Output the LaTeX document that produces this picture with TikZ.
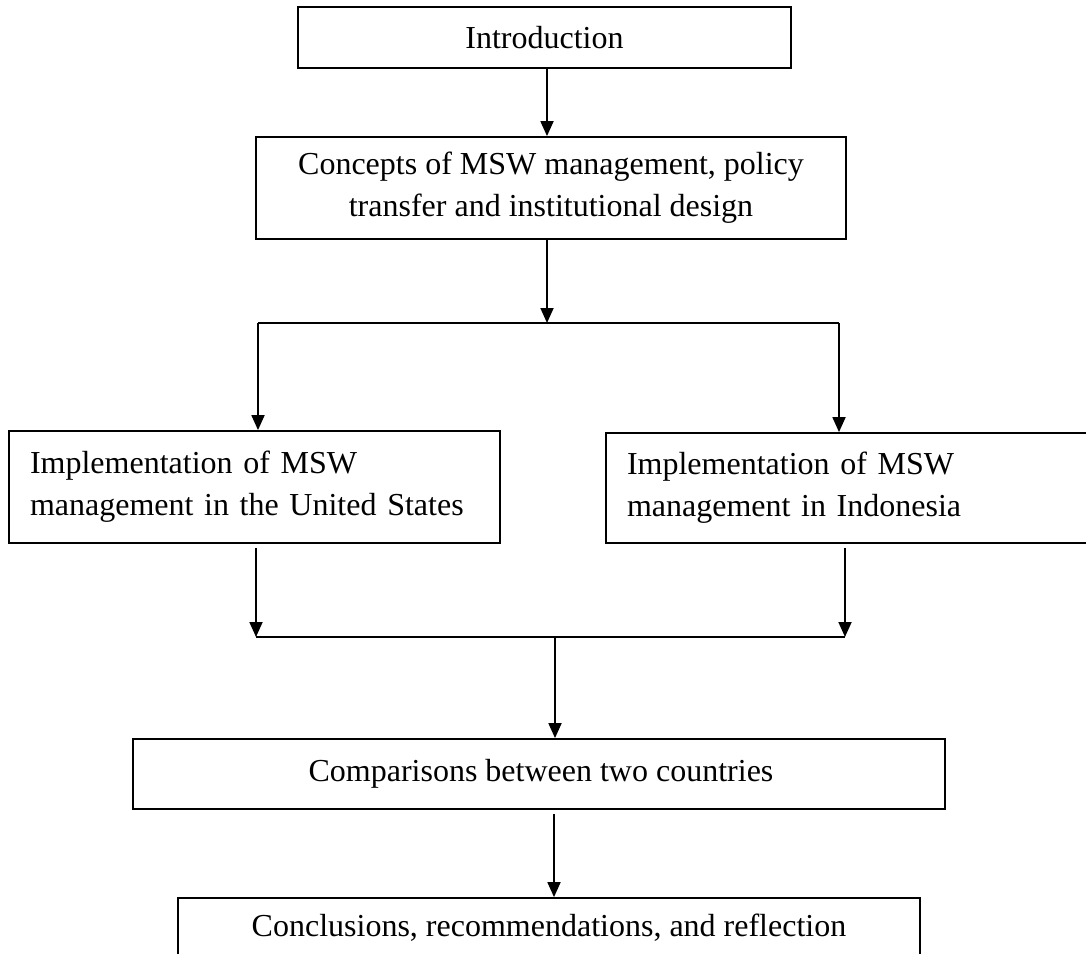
\documentclass[tikz,border=0pt]{standalone}
\usepackage{fontspec}
\setmainfont{Liberation Serif}
\usetikzlibrary{arrows.meta}
\tikzset{
  box/.style={draw, line width=0.9pt, rectangle, inner sep=0pt,
    font=\fontsize{16}{21}\selectfont},
  arr/.style={line width=0.9pt, -{Triangle[length=7.5pt,width=6.5pt]}},
  plain/.style={line width=0.9pt}
}
\begin{document}
\begin{tikzpicture}[x=0.5pt,y=-0.5pt]
\useasboundingbox (0,0) rectangle (1086,953);
\clip (0,0) rectangle (1086,953);
% boxes
\node[box, minimum width=246.5pt, minimum height=30.5pt] (intro) at (544.5,37.5) {Introduction};
\node[box, minimum width=295pt, minimum height=51pt, align=center] (concepts) at (551,188)
  {Concepts of MSW management, policy\\transfer and institutional design};
\node[box, minimum width=245.5pt, minimum height=56pt, text width=224.5pt, align=left] (left) at (254.5,487)
  {Implementation of MSW\\management in the United States};
\node[box, minimum width=243pt, minimum height=55pt, text width=222pt, align=left] (right) at (849,488)
  {Implementation of MSW\\management in Indonesia};
\node[box, minimum width=406pt, minimum height=35pt] (comp) at (539,774)
  {\hspace*{2pt}Comparisons between two countries};
\node[box, minimum width=371pt, minimum height=30pt] (concl) at (549,928)
  {Conclusions, recommendations, and reflection};
% junction points
\coordinate (c1) at (547,323);
\coordinate (jl) at (258,323);
\coordinate (jr) at (839,323);
\coordinate (kl) at (256,637);
\coordinate (kr) at (845,637);
\coordinate (km) at (555,637);
\coordinate (c2) at (554,900);
% connectors
\draw[arr] (intro.south -| c1) -- (concepts.north -| c1);
\draw[arr] (concepts.south -| c1) -- (c1);
\draw[plain] (jl) -- (jr);
\draw[arr] (jl) -- (left.north -| jl);
\draw[arr] (jr) -- (right.north -| jr);
\draw[arr, shorten <=2pt] (left.south -| kl) -- (kl);
\draw[arr, shorten <=2pt] (right.south -| kr) -- (kr);
\draw[plain] (kl) -- (kr);
\draw[arr] (km) -- (comp.north -| km);
\draw[arr, shorten <=2pt] (comp.south -| c2) -- (concl.north -| c2);
\end{tikzpicture}
\end{document}
